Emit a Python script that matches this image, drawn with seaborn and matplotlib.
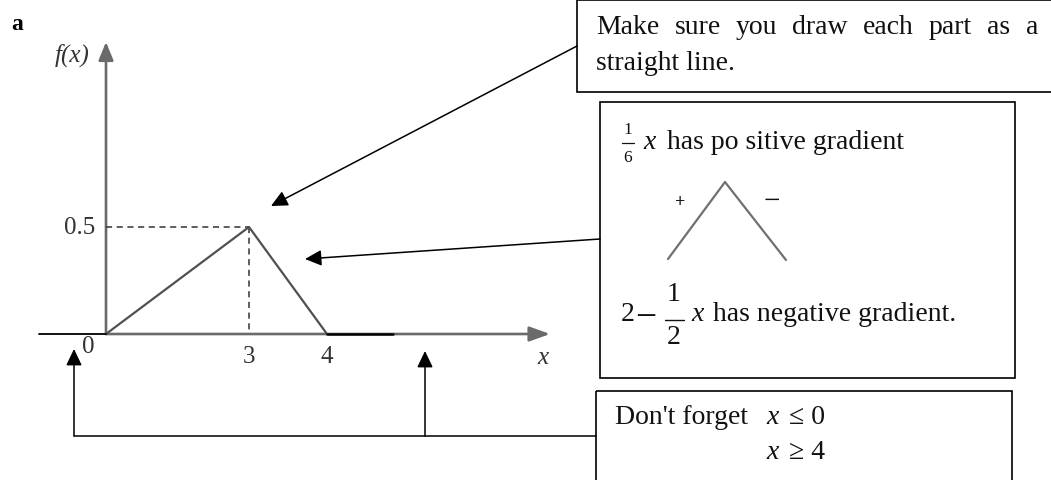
import numpy as np
import pandas as pd
import matplotlib
matplotlib.use("Agg")
import matplotlib.pyplot as plt
import seaborn as sns
from matplotlib.patches import Rectangle

# ---------------- data ----------------
x_left = [-1.4, 0.0]          # f(x) = 0 for x <= 0
y_left = [0.0, 0.0]
x_tri = [0.0, 3.0, 4.0]       # 1/6 x  then  2 - 1/2 x
y_tri = [0.0, 0.5, 0.0]
x_right = [4.0, 4.85]         # f(x) = 0 for x >= 4
y_right = [0.0, 0.0]
x_tick_vals = [0, 3, 4]
x_tick_labels = ["0", "3", "4"]
y_tick_vals = [0.5]
y_tick_labels = ["0.5"]

box1_lines = ["Make sure you draw each part as a", "straight line."]
box2_pos = "has po sitive gradient"
box2_neg = "has negative gradient."
box3_text = "Don't forget"

# ---------------- style ----------------
sns.set_theme(style="white")
plt.rcParams['font.family'] = ['Liberation Serif', 'DejaVu Serif']

W, H = 1051, 481
fig = plt.figure(figsize=(W / 100, H / 100), dpi=100)
fig.patch.set_facecolor("white")

# sketch is not to scale: piecewise-linear x scale through the labelled points
KD = np.array([-50.0, 0.0, 3.0, 4.0, 50.0])
KP = np.array([106 - 50 * 47.67, 106.0, 249.0, 327.0, 327 + 46 * 78.0])
fwd = lambda v: np.interp(v, KD, KP)
inv = lambda p: np.interp(p, KP, KD)
PXY = 214.0  # pixels per y unit

ax = fig.add_axes([0, 0, 1, 1])
ax.set_xscale("function", functions=(fwd, inv))
ax.axis("off")

axis_col = "#6a6a6a"
# coordinate axes (drawn first, below the curve)
ax.annotate("", xy=(inv(550), 0), xytext=(0, 0),
            arrowprops=dict(arrowstyle="-|>,head_length=1.25,head_width=0.45",
                            mutation_scale=10, color=axis_col, lw=1.9,
                            shrinkA=0, shrinkB=0), zorder=1)
ax.annotate("", xy=(0, (335 - 43) / PXY), xytext=(0, 0),
            arrowprops=dict(arrowstyle="-|>,head_length=1.1,head_width=0.45",
                            mutation_scale=10, color=axis_col, lw=1.9,
                            shrinkA=0, shrinkB=0), zorder=1)

tri_col = "#505050"
sns.lineplot(x=x_tri, y=y_tri, ax=ax, color=tri_col, lw=1.6, sort=False, zorder=3)
sns.lineplot(x=x_left, y=y_left, ax=ax, color="black", lw=1.3, sort=False, zorder=3)
sns.lineplot(x=x_right, y=y_right, ax=ax, color="black", lw=1.8, sort=False, zorder=3)

xp, yp = x_tri[1], y_tri[1]
ax.plot([0, xp], [yp, yp], ls=(0, (4, 3)), color="#333333", lw=1.1, zorder=2)
ax.plot([xp, xp], [yp, 0], ls=(0, (4, 3)), color="#333333", lw=1.1, zorder=2)

ax.set_xlim(inv(0), inv(W))
ax.set_ylim((335 - 481) / PXY, 335 / PXY)

lab_col = "#333333"
for v, lbl in zip(x_tick_vals, x_tick_labels):
    off = (-18, -12) if v == 0 else (0, -22)
    ax.annotate(lbl, xy=(v, 0), xytext=off, textcoords="offset pixels",
                ha="center", va="center", fontsize=18, color=lab_col)
for v, lbl in zip(y_tick_vals, y_tick_labels):
    ax.annotate(lbl, xy=(0, v), xytext=(-11, 0), textcoords="offset pixels",
                ha="right", va="center", fontsize=18, color=lab_col)

# ---------------- overlay in pixel coordinates ----------------
ov = fig.add_axes([0, 0, 1, 1])
ov.set_xlim(0, W)
ov.set_ylim(H, 0)
ov.axis("off")
ov.patch.set_visible(False)

def arrow(p0, p1, col="black", lw=1.1, hl=1.0, hw=0.48):
    ov.annotate("", xy=p1, xytext=p0,
                arrowprops=dict(arrowstyle=f"-|>,head_length={hl},head_width={hw}",
                                mutation_scale=10, color=col, lw=lw,
                                shrinkA=0, shrinkB=0))

ov.text(72, 55, "f(x)", fontsize=18, style="italic", color=lab_col, ha="center", va="center")
ov.text(543, 358, "x", fontsize=18, style="italic", color=lab_col, ha="center", va="center")
ov.text(17, 24, "a", fontsize=17, fontweight="bold", color="black", ha="center", va="center")

# pointer arrows
arrow((577, 47), (271, 207))
arrow((600, 240), (305, 260))
ov.plot([596, 74], [437, 437], color="black", lw=1.1)
arrow((74, 437), (74, 350))
arrow((425, 437), (425, 352))

# boxes
for (x0, y0, w, h) in [(577, 1, 520, 92), (600, 103, 415, 276), (596, 392, 416, 200)]:
    ov.add_patch(Rectangle((x0, y0), w, h, fill=False, ec="black", lw=1.2))

FS = 20
txt_col = "#111111"
r = fig.canvas.get_renderer()

# box 1 : justified first line
words = box1_lines[0].split()
tt = [ov.text(0, 28, w_, fontsize=FS, color=txt_col, ha="left", va="center") for w_ in words]
wids = [t.get_window_extent(r).width for t in tt]
gap = (1038 - 596 - sum(wids)) / (len(words) - 1)
xx = 596
for t, w_ in zip(tt, wids):
    t.set_x(xx)
    xx += w_ + gap
ov.text(596, 63, box1_lines[1], fontsize=FS, color=txt_col, ha="left", va="center")

# box 2
ov.text(628, 130, "1", fontsize=12.5, color=txt_col, ha="center", va="center")
ov.plot([622, 634], [144, 144], color=txt_col, lw=0.9)
ov.text(628, 158, "6", fontsize=12.5, color=txt_col, ha="center", va="center")
ov.text(643, 143, "x", fontsize=FS, style="italic", color=txt_col, ha="left", va="center")
ov.text(667, 143, box2_pos, fontsize=FS, color=txt_col, ha="left", va="center")

ov.plot([668, 725, 786], [260, 183, 261], color="#707070", lw=1.6)
ov.text(680, 203, "+", fontsize=13, fontweight="bold", color=txt_col, ha="center", va="center")
ov.text(772, 202, "\u2212", fontsize=21, color=txt_col, ha="center", va="center")

ov.text(628, 315, "2", fontsize=FS, color=txt_col, ha="center", va="center")
ov.text(646, 319, "\u2212", fontsize=27, color=txt_col, ha="center", va="center")
ov.text(674, 295, "1", fontsize=FS, color=txt_col, ha="center", va="center")
ov.plot([665, 684], [321, 321], color=txt_col, lw=1.0)
ov.text(674, 338, "2", fontsize=FS, color=txt_col, ha="center", va="center")
ov.text(691, 315, "x", fontsize=FS, style="italic", color=txt_col, ha="left", va="center")
ov.text(713, 315, box2_neg, fontsize=FS, color=txt_col, ha="left", va="center")

# box 3
ov.text(615, 418, box3_text, fontsize=FS, color=txt_col, ha="left", va="center")
ov.text(766, 418, "x", fontsize=FS, style="italic", color=txt_col, ha="left", va="center")
ov.text(789, 418, "\u2264 0", fontsize=FS, color=txt_col, ha="left", va="center")
ov.text(766, 453, "x", fontsize=FS, style="italic", color=txt_col, ha="left", va="center")
ov.text(789, 453, "\u2265 4", fontsize=FS, color=txt_col, ha="left", va="center")

fig.savefig("out.png", dpi=100, facecolor="white")
